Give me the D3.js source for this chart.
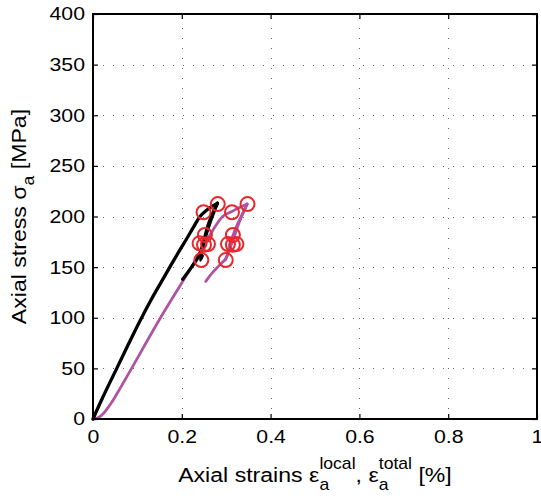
<!DOCTYPE html>
<html><head><meta charset="utf-8">
<script src="https://cdn.jsdelivr.net/npm/d3@7"></script>
<style>html,body{margin:0;padding:0;background:#fff;} svg{display:block;} text{font-family:"Liberation Sans",Arial,Helvetica,sans-serif;white-space:pre;}</style>
</head><body><div id="chart"></div>
<script>
// ---- data ----
const xTickValues = [0, 0.2, 0.4, 0.6, 0.8, 1];
const xTickLabels = ["0", "0.2", "0.4", "0.6", "0.8", "1"];
const yTickValues = [0, 50, 100, 150, 200, 250, 300, 350, 400];
const yTickLabels = ["0", "50", "100", "150", "200", "250", "300", "350", "400"];

// local strain (black)
const localLoading = [[0,0],[0.02,19.5],[0.0535,50],[0.08,74],[0.106,97],[0.13,117],[0.152,134],[0.173,150],[0.193,165],[0.211,178],[0.227,190],[0.241,200],[0.255,206],[0.268,210],[0.28,213]];
const localReloading = [[0.202,138],[0.222,150],[0.237,160],[0.246,170],[0.254,181],[0.262,192],[0.271,203],[0.28,213]];
const localUnloading = [[0.28,213],[0.262,195],[0.252,180],[0.246,168],[0.242,157],[0.246,161]];
// total strain (purple)
const totalLoading = [[0,0],[0.01,1],[0.02,4],[0.03,9],[0.04,15],[0.05,22],[0.06,29.5],[0.087,50],[0.152,100],[0.222,150],[0.292,200],[0.313,205],[0.33,209],[0.347,212.3]];
const totalReloading = [[0.254,136],[0.27,145],[0.285,152],[0.300,159],[0.307,170],[0.315,181],[0.325,192],[0.336,202],[0.347,212.3]];
const totalUnloading = [[0.347,212],[0.33,195],[0.318,180],[0.308,168],[0.298,157],[0.302,161]];
// marked points (red circles)
const localMarks = [[0.249,204.2],[0.281,212.3],[0.252,181.7],[0.240,173.5],[0.259,172.8],[0.250,172],[0.244,157]];
const totalMarks = [[0.313,204.2],[0.348,212.3],[0.315,181.7],[0.304,172.8],[0.323,172.8],[0.315,172],[0.299,157]];

// ---- chart ----
const W = 541, H = 500;
const L = 93, R = 537, T = 14, B = 419;
const svg = d3.select("#chart").append("svg").attr("width", W).attr("height", H);
const x = d3.scaleLinear().domain([0, 1]).range([L, R]);
const y = d3.scaleLinear().domain([0, 400]).range([B, T]);

// grid
const grid = svg.append("g").attr("stroke", "#666").attr("stroke-width", 1).attr("stroke-dasharray", "1,9");
grid.selectAll(".gx").data(xTickValues.slice(1, -1)).join("line")
  .attr("x1", d => Math.round(x(d)) + 0.5).attr("x2", d => Math.round(x(d)) + 0.5)
  .attr("y1", B).attr("y2", T);
grid.selectAll(".gy").data(yTickValues.slice(1, -1)).join("line")
  .attr("y1", d => Math.round(y(d)) + 0.5).attr("y2", d => Math.round(y(d)) + 0.5)
  .attr("x1", L).attr("x2", R);

// data lines
const line = d3.line().x(d => x(d[0])).y(d => y(d[1])).curve(d3.curveCatmullRom.alpha(0.5));
const purple = "#af53a2";
[totalLoading, totalReloading, totalUnloading].forEach(s => {
  svg.append("path").datum(s).attr("d", line).attr("fill", "none")
    .attr("stroke", purple).attr("stroke-width", 2.8).attr("stroke-linejoin", "round").attr("stroke-linecap", "round");
});
[localLoading, localReloading, localUnloading].forEach(s => {
  svg.append("path").datum(s).attr("d", line).attr("fill", "none")
    .attr("stroke", "#000").attr("stroke-width", 3.3).attr("stroke-linejoin", "round").attr("stroke-linecap", "round");
});
// red circles
svg.append("g").selectAll("circle").data(localMarks.concat(totalMarks)).join("circle")
  .attr("cx", d => x(d[0])).attr("cy", d => y(d[1])).attr("r", 7)
  .attr("fill", "none").attr("stroke", "#e8272c").attr("stroke-width", 2);

// axes
const sx = 1.15;
const xAxis = d3.axisBottom(x).tickValues(xTickValues).tickFormat((d, i) => xTickLabels[i])
  .tickSizeInner(-5).tickSizeOuter(0).tickPadding(11);
const gx = svg.append("g").attr("transform", `translate(0,${B})`).call(xAxis);
const xTop = d3.axisTop(x).tickValues(xTickValues).tickFormat("").tickSizeInner(-5).tickSizeOuter(0);
const gxt = svg.append("g").attr("transform", `translate(0,${T})`).call(xTop);
const yAxis = d3.axisLeft(y).tickValues(yTickValues).tickFormat((d, i) => yTickLabels[i])
  .tickSizeInner(-5).tickSizeOuter(0).tickPadding(8);
const gy = svg.append("g").attr("transform", `translate(${L},0)`).call(yAxis);
const yRight = d3.axisRight(y).tickValues(yTickValues).tickFormat("").tickSizeInner(-5).tickSizeOuter(0);
const gyr = svg.append("g").attr("transform", `translate(${R},0)`).call(yRight);
[gx, gxt, gy, gyr].forEach(g => {
  g.select(".domain").remove();
  g.selectAll(".tick line").attr("stroke", "#000").attr("stroke-width", 1.2);
  g.selectAll("text").attr("font-size", 18.5).attr("fill", "#000")
   .attr("font-family", "'Liberation Sans', Arial, sans-serif");
});
gx.selectAll(".tick text").attr("transform", `scale(${sx},1)`);
gy.selectAll(".tick text").attr("transform", `scale(${sx},1)`).attr("x", -8 / sx);

// frame
svg.append("rect").attr("x", L).attr("y", T).attr("width", R - L).attr("height", B - T)
  .attr("fill", "none").attr("stroke", "#000").attr("stroke-width", 2);

// ---- axis labels ----
function richLabel(parent, parts, fsMain, fsSmall) {
  const g = parent.append("g");
  let cx = 0, lastStart = 0;
  parts.forEach(p => {
    const fs = p.kind === "main" ? fsMain : fsSmall;
    const dy = p.kind === "sup" ? -12.5 : (p.kind === "sub" ? 8.5 : 0);
    const startX = p.stack ? lastStart : cx;
    const t = g.append("text").attr("x", startX).attr("y", dy).attr("font-size", fs)
      .attr("fill", "#000").attr("xml:space", "preserve").text(p.t);
    const w = t.node().getComputedTextLength();
    if (!p.stack) { lastStart = cx; cx = startX + w; }
    else { cx = Math.max(cx, startX + w); }
  });
  return { g, width: cx };
}
const ls = 1.1;
const xl = richLabel(svg, [
  { t: "Axial strains ε", kind: "main" },
  { t: "local", kind: "sup" },
  { t: "a", kind: "sub", stack: true },
  { t: ", ε", kind: "main" },
  { t: "total", kind: "sup" },
  { t: "a", kind: "sub", stack: true },
  { t: "\u00a0[%]", kind: "main" }
], 21, 16);
xl.g.attr("transform", `translate(${(L + R) / 2 - xl.width * ls / 2},481.5) scale(${ls},1)`);

const yl = richLabel(svg, [
  { t: "Axial stress σ", kind: "main" },
  { t: "a", kind: "sub" },
  { t: "\u00a0[MPa]", kind: "main" }
], 21, 16);
yl.g.attr("transform", `translate(25.5,${(T + B) / 2 + yl.width * ls / 2}) rotate(-90) scale(${ls},1)`);
</script></body></html>
